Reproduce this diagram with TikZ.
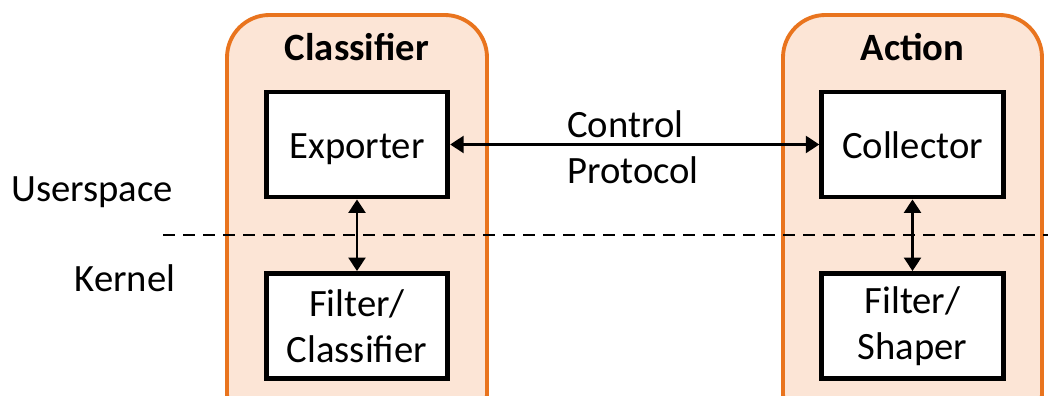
\documentclass[tikz,border=0pt]{standalone}
\usepackage{fontspec}
\setmainfont{Carlito}
\usepackage{tikz}
\usetikzlibrary{positioning, arrows.meta}
\definecolor{grpLine}{RGB}{233, 116, 30}
\definecolor{grpFill}{RGB}{252, 229, 214}

\begin{document}
\begin{tikzpicture}[>={Triangle[length=0.27cm, width=0.34cm]}, font=\fontsize{22}{26}\selectfont]
  \clip (0, 0) rectangle (20.96, 7.92);
  \useasboundingbox (0, 0) rectangle (20.96, 7.92);
  \tikzset{
    group/.style={draw=grpLine, fill=grpFill, line width=2.2pt, rounded corners=0.85cm},
    block/.style={draw, fill=white, line width=2.8pt, minimum width=3.63cm, minimum height=2.1cm, align=center, inner sep=2pt},
    oneline/.style={text height=15.4pt, text depth=0pt},
    link/.style={<->, line width=1.5pt}
  }
  % Classifier side
  \draw[group] (4.54, -0.8) rectangle (9.74, 7.62);
  \node[font=\fontsize{22}{26}\selectfont\bfseries] (clsTitle) at (7.14, 6.98) {Classifier};
  \node[block, oneline] (exporter) at (7.14, 5.03) {Exporter};
  \node[block] (filterCls) at (7.14, 1.40) {Filter/\\Classifier};
  % Action side
  \draw[group] (15.66, -0.8) rectangle (20.84, 7.62);
  \node[font=\fontsize{22}{26}\selectfont\bfseries] (actTitle) at (18.25, 6.98) {Action};
  \node[block, oneline] (collector) at (18.25, 5.03) {Collector};
  \node[block] (filterShp) at (18.25, 1.40) {Filter/\\Shaper};
  % user/kernel boundary
  \coordinate (bndL) at (3.26, 3.22);
  \coordinate (bndR) at (20.96, 3.22);
  \draw[line width=1.2pt, dash pattern=on 0.24cm off 0.16cm] (bndL) -- (bndR);
  \node (user) at (1.84, 4.08) {Userspace};
  \node (kernel) at (2.50, 2.36) {Kernel};
  % links
  \draw[link] (exporter) -- (collector);
  \node[align=left, anchor=west, inner sep=0pt] (proto) at (11.34, 4.98) {Control\\Protocol};
  \draw[link] (exporter) -- (filterCls);
  \draw[link] (collector) -- (filterShp);
\end{tikzpicture}
\end{document}
